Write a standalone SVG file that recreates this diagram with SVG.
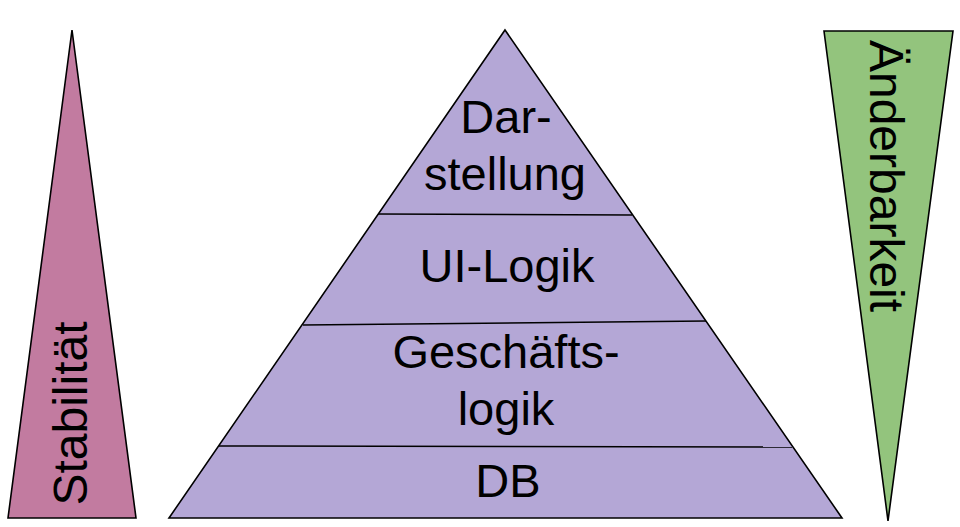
<svg xmlns="http://www.w3.org/2000/svg" width="960" height="527" viewBox="0 0 960 527">
<style>
.shape{stroke:#000;stroke-width:1.6;stroke-linejoin:miter}
.div{stroke:#000;stroke-width:1.6;fill:none}
.t{font-family:"Liberation Sans",Arial,sans-serif;fill:#000;text-anchor:middle}
.p{font-size:47px}
.s{font-size:48px}
</style>
<rect width="960" height="527" fill="#fff"/>
<g id="stabilitaet">
<polygon class="shape" points="72,30 136,518 8,518" fill="#c27ba0"/>
<text class="t s" transform="translate(87,413.5) rotate(-90)">Stabilität</text>
</g>
<g id="pyramide">
<polygon class="shape" points="505,30 842,518 169,518" fill="#b4a7d6"/>
<g id="trennlinien">
<line class="div" x1="378" y1="214" x2="632" y2="215"/>
<line class="div" x1="303" y1="325" x2="706" y2="321"/>
<line class="div" x1="219" y1="446" x2="792" y2="447"/>
</g>
</g>
<g id="darstellung">
<text class="t p" x="506" y="133">Dar-</text>
<text class="t p" x="505" y="190">stellung</text>
</g>
<g id="ui-logik">
<text class="t p" x="507" y="282">UI-Logik</text>
</g>
<g id="geschaeftslogik">
<text class="t p" x="506" y="368">Geschäfts-</text>
<text class="t p" x="506" y="425">logik</text>
</g>
<g id="db">
<text class="t p" x="508" y="497">DB</text>
</g>
<g id="aenderbarkeit">
<polygon class="shape" points="824,31 953,31 888,521" fill="#93c47d"/>
<text class="t s" transform="translate(870,176) rotate(90)">Änderbarkeit</text>
</g>
<g id="connectors"/>
</svg>
